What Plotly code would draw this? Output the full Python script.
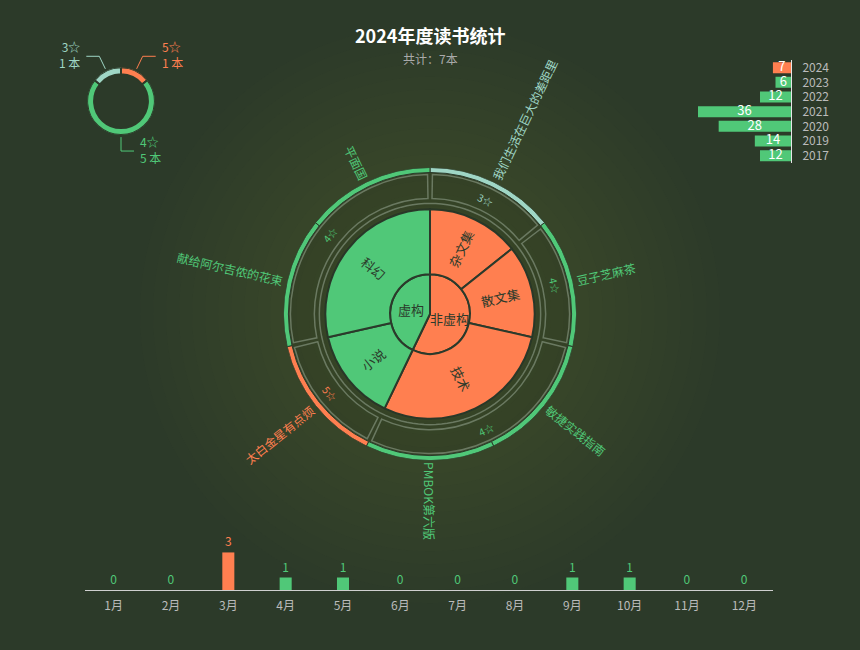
import numpy as np
import plotly.graph_objects as go

W, H = 860, 650

# ---- data ----
this_year = "2024"

# books, clockwise from 12 o'clock
books = ["我们生活在巨大的差距里", "豆子芝麻茶", "敏捷实践指南", "PMBOK第六版",
         "太白金星有点烦", "献给阿尔吉侬的花束", "平面国"]
book_cat = ["杂文集", "散文集", "技术", "技术", "小说", "科幻", "科幻"]
book_star = [3, 4, 4, 4, 5, 4, 4]
cat_kind = {"杂文集": "非虚构", "散文集": "非虚构", "技术": "非虚构",
            "小说": "虚构", "科幻": "虚构"}

# star rating donut (top left)
star_values = [5, 4, 3]
star_counts = [1, 5, 1]

# books per year (top right)
years = ["2024", "2023", "2022", "2021", "2020", "2019", "2017"]
year_counts = [7, 6, 12, 36, 28, 14, 12]

# books per month (bottom)
months = ["1月", "2月", "3月", "4月", "5月", "6月",
          "7月", "8月", "9月", "10月", "11月", "12月"]
month_counts = [0, 0, 3, 1, 1, 0, 0, 0, 1, 1, 0, 0]

# ---- style ----
GREEN = "#50c878"
ORANGE = "#ff7f50"
TEAL = "#9fd6c5"
BG = "#2c3a29"
INK = "#2b3a2b"
GREY = "rgba(160,175,155,0.5)"
FONT = "Noto Sans CJK SC, sans-serif"

star_color = {3: TEAL, 4: GREEN, 5: ORANGE}
kind_color = {"虚构": GREEN, "非虚构": ORANGE}

CX, CY, RP = 430, 313, 147     # wheel centre / radius in px
DX, DY, DR = 121, 99.5, 34     # donut centre / radius in px


def runs(keys):
    out = []
    for i, k in enumerate(keys):
        if out and out[-1][0] == k:
            out[-1][2] += 1
        else:
            out.append([k, i, 1])
    return out


step = 360 / len(books)


def arcs(keys):
    rr = runs(keys)
    return ([r[0] for r in rr],
            [(s + n / 2) * step for _, s, n in rr],
            [n * step for _, s, n in rr])


def paper(cx, cy, r, ang):
    a = np.radians(ang)
    return (cx + r * np.sin(a)) / W, 1 - (cy - r * np.cos(a)) / H


def dom(cx, cy, r):
    return dict(x=[(cx - r) / W, (cx + r) / W],
                y=[1 - (cy + r) / H, 1 - (cy - r) / H])


def radial_rot(a):
    return a - 90 if a <= 180 else a - 270


def tangent_rot(a):
    if a <= 90:
        return a
    if a < 270:
        return a - 180
    return a - 360


def text_len(s, size):
    return sum(size if ord(c) > 255 else 0.62 * size for c in s)


fig = go.Figure()
ann = []
shapes = []

# soft glow behind the wheel
for k in range(20):
    r = 290 - k * 13
    shapes.append(dict(type="circle", xref="paper", yref="paper", layer="below",
                       x0=(CX - r) / W, x1=(CX + r) / W,
                       y0=1 - (CY + r) / H, y1=1 - (CY - r) / H,
                       fillcolor="rgba(115,92,55,0.026)", line=dict(width=0)))

# ring 1: 虚构 / 非虚构
kinds, th1, w1 = arcs([cat_kind[c] for c in book_cat])
fig.add_trace(go.Barpolar(r=[40] * len(kinds), base=0, theta=th1, width=w1,
                          marker=dict(color=[kind_color[k] for k in kinds],
                                      line=dict(color=INK, width=2)),
                          subplot="polar", hoverinfo="skip"))
for k, t in zip(kinds, th1):
    x, y = paper(CX, CY, 20, t)
    ann.append(dict(x=x, y=y, text=k, font=dict(size=13, color=INK)))

# ring 2: categories
cats, th2, w2 = arcs(book_cat)
fig.add_trace(go.Barpolar(r=[65] * len(cats), base=40, theta=th2, width=w2,
                          marker=dict(color=[kind_color[cat_kind[c]] for c in cats],
                                      line=dict(color=INK, width=2)),
                          subplot="polar", hoverinfo="skip"))
for c, t in zip(cats, th2):
    x, y = paper(CX, CY, 72.5, t)
    ann.append(dict(x=x, y=y, text=c, textangle=radial_rot(t),
                    font=dict(size=13, color=INK)))

# faint band + thin circle
fig.add_trace(go.Barpolar(r=[36], base=105, theta=[180], width=[360],
                          marker=dict(color="rgba(22,30,20,0.12)", line=dict(width=0)),
                          subplot="polar", hoverinfo="skip"))
ring = np.linspace(0, 360, 121)
fig.add_trace(go.Scatterpolar(r=[111] * len(ring), theta=ring, mode="lines",
                              line=dict(color=GREY, width=1.5),
                              subplot="polar", hoverinfo="skip"))

# ring 3: star groups
groups, th3, w3 = arcs(list(zip(book_cat, book_star)))
fig.add_trace(go.Barpolar(r=[24] * len(groups), base=116, theta=th3,
                          width=[w - 2 for w in w3],
                          marker=dict(color="rgba(0,0,0,0)", line=dict(color=GREY, width=1.5)),
                          subplot="polar", hoverinfo="skip"))
for (c, s), t in zip(groups, th3):
    x, y = paper(CX, CY, 128, t)
    ann.append(dict(x=x, y=y, text=f"{s}☆", textangle=tangent_rot(t),
                    font=dict(size=10, color=star_color[s])))

# ring 4: books
th4 = [(i + 0.5) * step for i in range(len(books))]
fig.add_trace(go.Barpolar(r=[5] * len(books), base=142, theta=th4, width=[step] * len(books),
                          marker=dict(color=[star_color[s] for s in book_star],
                                      line=dict(color=INK, width=1)),
                          subplot="polar", hoverinfo="skip"))
for b, s, t in zip(books, book_star, th4):
    x, y = paper(CX, CY, 151 + text_len(b, 12) / 2, t)
    ann.append(dict(x=x, y=y, text=b, textangle=radial_rot(t),
                    font=dict(size=12, color=star_color[s])))

# ---- star donut ----
tot = sum(star_counts)
cum = np.cumsum([0] + star_counts) / tot * 360
mids = (cum[:-1] + cum[1:]) / 2
fig.add_trace(go.Barpolar(r=[7] * len(star_counts), base=27, theta=mids,
                          width=np.diff(cum),
                          marker=dict(color=[star_color[s] for s in star_values],
                                      line=dict(color=BG, width=2)),
                          subplot="polar2", hoverinfo="skip"))
for s, n, a in zip(star_values, star_counts, mids):
    side = 1 if np.sin(np.radians(a)) > -1e-9 else -1
    x0, y0 = paper(DX, DY, 36, a)
    x1, y1 = paper(DX, DY, 50, a)
    x2 = x1 + side * 13 / W
    shapes.append(dict(type="path", xref="paper", yref="paper",
                       path=f"M {x0},{y0} L {x1},{y1} L {x2},{y1}",
                       line=dict(color=star_color[s], width=1)))
    ann.append(dict(x=x2 + side * 4 / W, y=y1 + 2 / H, text=f"{s}☆<br>{n} 本",
                    xanchor="left" if side > 0 else "right",
                    align="left" if side > 0 else "right",
                    font=dict(size=12, color=star_color[s])))

# ---- books per year ----
fig.add_trace(go.Bar(x=year_counts, y=years, orientation="h", width=0.75,
                     marker=dict(color=[ORANGE if y == this_year else GREEN for y in years],
                                 line=dict(width=0)),
                     xaxis="x2", yaxis="y2", hoverinfo="skip"))
fig.add_trace(go.Scatter(x=[v / 2 for v in year_counts], y=years, mode="text",
                         text=[str(v) for v in year_counts],
                         textfont=dict(size=13, color="white"),
                         xaxis="x2", yaxis="y2", cliponaxis=False, hoverinfo="skip"))

# ---- books per month ----
top = max(month_counts)
mcol = [ORANGE if v == top else GREEN for v in month_counts]
fig.add_trace(go.Bar(x=months, y=month_counts, width=0.21,
                     marker=dict(color=mcol, line=dict(width=0)),
                     text=[str(v) for v in month_counts], textposition="outside",
                     textfont=dict(size=12, color=mcol), cliponaxis=False,
                     xaxis="x3", yaxis="y3", hoverinfo="skip"))

# titles
ann.append(dict(x=0.5, y=1 - 33 / H, text=f"<b>{this_year}年度读书统计</b>",
                font=dict(size=18, color="white")))
ann.append(dict(x=0.5, y=1 - 57 / H, text=f"共计：{len(books)}本",
                font=dict(size=12, color="#aaaaaa")))

for a in ann:
    a.setdefault("xref", "paper")
    a.setdefault("yref", "paper")
    a.setdefault("xanchor", "center")
    a.setdefault("yanchor", "middle")
    a.setdefault("showarrow", False)

polar_common = dict(bgcolor="rgba(0,0,0,0)", barmode="overlay",
                    angularaxis=dict(visible=False, rotation=90, direction="clockwise"))

fig.update_layout(
    width=W, height=H, margin=dict(l=0, r=0, t=0, b=0),
    paper_bgcolor=BG, plot_bgcolor="rgba(0,0,0,0)",
    font=dict(family=FONT, color="#cccccc"),
    showlegend=False,
    polar=dict(domain=dom(CX, CY, RP), radialaxis=dict(visible=False, range=[0, RP]),
               **polar_common),
    polar2=dict(domain=dom(DX, DY, DR), radialaxis=dict(visible=False, range=[0, DR]),
                **polar_common),
    xaxis2=dict(domain=[698 / W, 791 / W], range=[max(year_counts), 0], visible=False,
                anchor="y2", fixedrange=True),
    yaxis2=dict(domain=[1 - 161.5 / H, 1 - 58.5 / H], anchor="x2", side="right",
                autorange="reversed", type="category", showline=True,
                linecolor="#e6e6e6", linewidth=1, ticks="", showgrid=False,
                ticklabelstandoff=8, tickfont=dict(size=12, color="#bbbbbb")),
    xaxis3=dict(domain=[85 / W, 773 / W], anchor="y3", showline=True,
                linecolor="#cfcfcf", linewidth=1, ticks="", showgrid=False,
                ticklabelstandoff=4, tickfont=dict(size=12, color="#bbbbbb")),
    yaxis3=dict(domain=[1 - 590 / H, 1 - 552 / H], anchor="x3", range=[0, top],
                visible=False),
    annotations=ann,
    shapes=shapes,
)

# page has a default 8px body margin; drop it so the chart fills the window
fig.write_html("out.html", config={"displayModeBar": False},
               post_script="document.body.style.margin='0px';")
